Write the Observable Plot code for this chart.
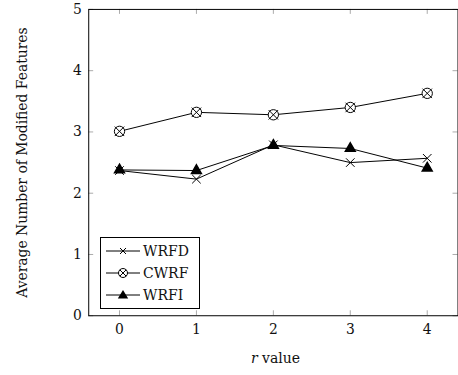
<!DOCTYPE html>
<html>
<head>
<meta charset="utf-8">
<script src="https://cdn.jsdelivr.net/npm/d3@7"></script>
<script src="https://cdn.jsdelivr.net/npm/@observablehq/plot@0.6"></script>
<style>
  html, body { margin: 0; padding: 0; background: #fff; overflow: hidden; }
  #wrap { position: relative; width: 458px; height: 375px; overflow: hidden; font-family: "DejaVu Serif", "Liberation Serif", serif; }
  #chart svg, #chart svg text { font-family: "DejaVu Serif", "Liberation Serif", serif !important; }
  #legend { position: absolute; left: 100px; top: 237px; width: 98px; height: 70px; border: 1px solid #000; background: #fff; }
  .row { position: absolute; left: 0; height: 22px; display: flex; align-items: center; font-size: 14px; color: #111; }
  .row svg { margin-left: 5px; margin-right: 3px; }
  #xlabel { position: absolute; top: 350px; left: 0; width: 551px; text-align: center; font-size: 14px; color: #111; }
</style>
</head>
<body>
<div id="wrap">
  <div id="chart"></div>
  <div id="legend"></div>
  <div id="xlabel"><i>r</i> value</div>
</div>
<script>
const rValues = [0, 1, 2, 3, 4];
const seriesNames = ["WRFD", "CWRF", "WRFI"];
const wrfd = [2.37, 2.23, 2.79, 2.50, 2.57];
const cwrf = [3.01, 3.32, 3.28, 3.40, 3.63];
const wrfi = [2.38, 2.37, 2.78, 2.73, 2.41];
const xTicks = [0, 1, 2, 3, 4];
const yTicks = [0, 1, 2, 3, 4, 5];
const yLabel = "Average Number of Modified Features";

const mk = (vals, name) => rValues.map((r, i) => ({r, v: vals[i], name}));
const dWRFD = mk(wrfd, "WRFD");
const dCWRF = mk(cwrf, "CWRF");
const dWRFI = mk(wrfi, "WRFI");

const W = 462, H = 375, mt = 9, mb = 57, ml = 89, mr = 0.5;
const ph = H - mt - mb, pw = W - ml - mr;
const tl = 5;
const tickColor = "#aaa";

const chart = Plot.plot({
  width: W, height: H,
  marginTop: mt, marginBottom: mb, marginLeft: ml, marginRight: mr,
  style: {fontFamily: "'DejaVu Serif', 'Liberation Serif', serif", fontSize: "14px", color: "#111", background: "#fff"},
  x: {domain: [-0.4, 4.4], ticks: xTicks},
  y: {domain: [0, 5], ticks: yTicks},
  marks: [
    Plot.tickX(xTicks, {x: d => d, insetTop: ph - tl, stroke: tickColor, strokeWidth: 1}),
    Plot.tickX(xTicks, {x: d => d, insetBottom: ph - tl, stroke: tickColor, strokeWidth: 1}),
    Plot.tickY(yTicks, {y: d => d, insetRight: pw - tl, stroke: tickColor, strokeWidth: 1}),
    Plot.tickY(yTicks, {y: d => d, insetLeft: pw - tl, stroke: tickColor, strokeWidth: 1}),
    Plot.axisX({ticks: xTicks, tickFormat: "d", tickSize: 0, tickPadding: 8, label: null, fontSize: 14}),
    Plot.axisY({ticks: yTicks, tickFormat: "d", tickSize: 0, tickPadding: 7, label: yLabel, labelAnchor: "center", labelArrow: "none", labelOffset: 72, fontSize: 14}),
    Plot.line(dWRFD, {x: "r", y: "v", stroke: "#000", strokeWidth: 1}),
    Plot.line(dCWRF, {x: "r", y: "v", stroke: "#000", strokeWidth: 1}),
    Plot.line(dWRFI, {x: "r", y: "v", stroke: "#000", strokeWidth: 1}),
    Plot.dot(dWRFD, {x: "r", y: "v", symbol: "times", r: 4, stroke: "#000", strokeWidth: 1}),
    Plot.dot(dCWRF, {x: "r", y: "v", symbol: "circle", r: 5.2, stroke: "#000", fill: "#fff", strokeWidth: 1}),
    Plot.dot(dCWRF, {x: "r", y: "v", symbol: "times", r: 4.4, stroke: "#000", strokeWidth: 1}),
    Plot.dot(dWRFI, {x: "r", y: "v", symbol: "triangle", r: 3.7, fill: "#000", stroke: "#000"}),
    Plot.frame({stroke: "#000", strokeWidth: 1})
  ]
});
document.getElementById("chart").appendChild(chart);

// Legend
const legend = d3.select("#legend");
const markers = {
  WRFD: g => g.append("path").attr("d", "M-3,-3L3,3M-3,3L3,-3").attr("stroke", "#000").attr("fill", "none"),
  CWRF: g => { g.append("circle").attr("r", 4.5).attr("stroke", "#000").attr("fill", "#fff");
               g.append("path").attr("d", "M-3.2,-3.2L3.2,3.2M-3.2,3.2L3.2,-3.2").attr("stroke", "#000"); },
  WRFI: g => g.append("path").attr("d", "M0,-5L5.2,3.5L-5.2,3.5Z").attr("fill", "#000")
};
seriesNames.forEach((name, i) => {
  const row = legend.append("div").attr("class", "row").style("top", (2 + i * 22) + "px");
  const svg = row.append("svg").attr("width", 34).attr("height", 14);
  svg.append("line").attr("x1", 0).attr("x2", 34).attr("y1", 7).attr("y2", 7).attr("stroke", "#000");
  markers[name](svg.append("g").attr("transform", "translate(17,7)"));
  row.append("span").text(name);
});
</script>
</body>
</html>
